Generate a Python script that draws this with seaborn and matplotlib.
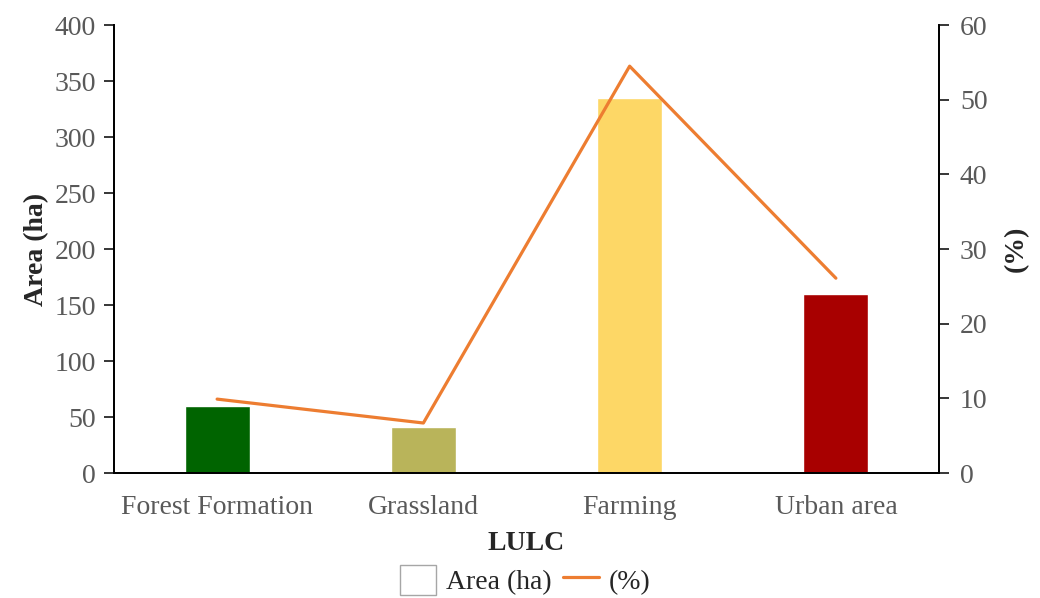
import matplotlib
matplotlib.use("Agg")
import matplotlib.pyplot as plt
from matplotlib.patches import Patch
from matplotlib.lines import Line2D
import numpy as np
import pandas as pd
import seaborn as sns

# Land use / land cover classes
categories = ["Forest Formation", "Grassland", "Farming", "Urban area"]
area_ha = [60, 41, 335, 160]
share_pct = [9.9, 6.7, 54.5, 26.1]
bar_colors = ["#006400", "#B9B45A", "#FDD766", "#A80000"]
area_ticks = [0, 50, 100, 150, 200, 250, 300, 350, 400]
pct_ticks = [0, 10, 20, 30, 40, 50, 60]

sns.set_style("white")
plt.rcParams["font.family"] = ["Liberation Serif", "DejaVu Serif"]

df = pd.DataFrame({"LULC": categories, "Area": area_ha, "Pct": share_pct})

fig = plt.figure(figsize=(10.4, 5.98), dpi=100)
ax = fig.add_axes([0.1096, 0.209, 0.7933, 0.749])

sns.barplot(data=df, x="LULC", y="Area", hue="LULC", palette=bar_colors,
            width=0.315, legend=False, ax=ax, saturation=1)

ax2 = ax.twinx()
sns.lineplot(x=np.arange(len(categories)), y=df["Pct"], ax=ax2,
             color="#ED7D31", linewidth=2.3, sort=False)

fs = 20
tick_gray = "#595959"
ax.set_ylim(0, 400)
ax.set_yticks(area_ticks)
ax2.set_ylim(0, 60)
ax2.set_yticks(pct_ticks)
ax.set_xlim(-0.5, len(categories) - 0.5)

ax.set_xticks(range(len(categories)))
ax.set_xticklabels(categories)
ax.set_xticks(np.arange(-0.5, len(categories)), minor=True)
ax.tick_params(axis="x", which="major", length=0, labelsize=fs,
               labelcolor=tick_gray, pad=16)
ax.tick_params(axis="x", which="minor", length=8, width=1.3,
               direction="out", color="black")
ax.tick_params(axis="y", length=7, width=1.3, direction="out",
               labelsize=fs, labelcolor=tick_gray, left=True, pad=6)
ax2.tick_params(axis="y", length=7, width=1.3, direction="out",
                labelsize=fs, labelcolor=tick_gray, right=True, pad=8)

for a in (ax, ax2):
    a.spines["top"].set_visible(False)
    for s in ("left", "right", "bottom"):
        a.spines[s].set_color("black")
        a.spines[s].set_linewidth(1.3)

ax.set_xlabel("LULC", fontsize=fs, fontweight="bold", labelpad=8)
ax.set_ylabel("Area (ha)", fontsize=fs, fontweight="bold", labelpad=4)
ax2.set_ylabel("(%)", fontsize=fs, fontweight="bold", labelpad=12)

handles = [Patch(facecolor="white", edgecolor="#A6A6A6", linewidth=1.0),
           Line2D([0], [0], color="#ED7D31", linewidth=2.3)]
fig.legend(handles, ["Area (ha)", "(%)"], loc="lower center",
           bbox_to_anchor=(0.505, 0.0), ncol=2, frameon=False,
           fontsize=fs, handlelength=1.3, handleheight=1.3,
           columnspacing=0.4, handletextpad=0.35, borderpad=0.05,
           borderaxespad=0.05)

fig.savefig("out.png", dpi=100, facecolor="white")
